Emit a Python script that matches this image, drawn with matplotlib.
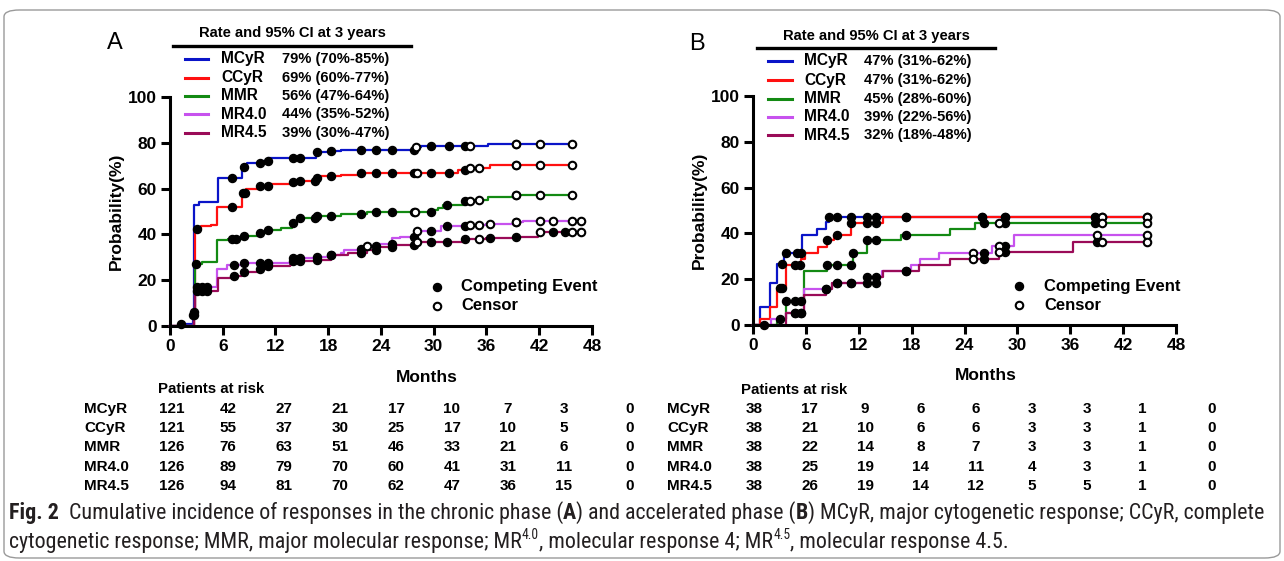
import numpy as np
import matplotlib
matplotlib.use("Agg")
import matplotlib.pyplot as plt
import matplotlib.font_manager as fm
from matplotlib.lines import Line2D
from matplotlib.patches import FancyBboxPatch

W, H = 1284, 561
FONT = "Liberation Sans"

# ---- data: cumulative incidence step curves (months, %) ----
series = ["MCyR", "CCyR", "MMR", "MR4.0", "MR4.5"]
colors = ["#0a14c8", "#ff1010", "#138a13", "#c752ee", "#9a0b58"]

# panel A: chronic phase
A_MCyR_t = [0, 1.2, 2.6, 2.75, 3.3, 5.5, 8.2, 8.8, 10.6, 11.2, 16.6, 18.0, 19.4, 27.8, 28.6, 36.2]
A_MCyR_v = [0, 0.8, 5, 53, 54, 64.5, 69.5, 71, 72, 73.5, 76, 76.5, 77, 78, 78.7, 79.5]
A_CCyR_t = [0, 2.7, 2.8, 3.5, 4.7, 5.4, 8.2, 8.7, 10.2, 11.2, 13.8, 14.8, 16.6, 17.2, 19.4, 21.7, 32.8, 33.8, 36.4]
A_CCyR_v = [0, 6, 42.5, 43.5, 44, 52, 58, 60, 61, 62, 63, 63.5, 64.5, 65.5, 66, 67, 68, 69, 70.3]
A_MMR_t = [0, 2.7, 2.8, 3.6, 5.4, 6.6, 8.2, 10.0, 11.0, 12.6, 13.9, 14.5, 16.6, 19.4, 22.4, 30.0, 30.5, 31.1, 33.6, 34.5, 36.2, 39.1]
A_MMR_v = [0, 5, 27, 28, 37.5, 38, 39.5, 40.5, 42, 43, 45, 47, 48, 49, 50, 50.5, 51.5, 53, 54.5, 55, 56.5, 57.2]
A_MR40_t = [0, 2.7, 2.8, 5.4, 6.5, 8.2, 13.9, 16.4, 18.2, 19.4, 19.8, 21.6, 22.4, 23.5, 25.3, 26.2, 27.9, 30.8, 33.8, 36.0, 39.3, 40.2]
A_MR40_v = [0, 5, 17, 25, 26.5, 27.5, 29.5, 30, 31, 32, 33, 33.5, 35, 36, 38.5, 39, 41.5, 43.5, 44, 44.5, 45.5, 46]
A_MR45_t = [0, 2.7, 2.8, 5.5, 6.9, 8.2, 10.0, 11.0, 13.6, 13.9, 16.4, 18.3, 20.2, 22.4, 23.7, 25.4, 27.9, 33.6, 36.0, 39.3, 41.9]
A_MR45_v = [0, 5, 15.5, 21, 22, 23.5, 25, 26, 26.5, 28.5, 29, 31, 32, 33, 34.5, 35.5, 36.5, 38, 38.5, 39, 41]
A_end = [45.7, 45.7, 45.7, 46.7, 46.7]

# competing events (filled) and censored (open) times
A_MCyR_ev = [1.3, 2.6, 7.1, 8.4, 10.2, 11.1, 14.0, 14.8, 16.7, 18.3, 21.7, 23.4, 25.2, 27.7, 29.7, 31.7, 33.6, 39.3]
A_MCyR_cen = [28.0, 34.1, 39.3, 42.1, 45.7]
A_CCyR_ev = [2.72, 3.1, 7.1, 8.3, 8.5, 10.2, 11.1, 14.0, 14.8, 16.5, 16.7, 18.3, 21.7, 23.4, 25.2, 27.7, 29.7, 31.7, 33.6, 39.3]
A_CCyR_cen = [28.1, 34.1, 35.1, 39.3, 42.1, 45.7]
A_MMR_ev = [2.75, 3.0, 7.1, 7.5, 8.4, 10.2, 11.1, 14.0, 14.8, 16.5, 16.7, 18.3, 21.7, 23.4, 25.2, 27.7, 29.7, 31.5, 33.6, 39.3]
A_MMR_cen = [27.9, 34.1, 35.1, 39.3, 42.1, 45.7]
A_MR40_ev = [3.1, 3.6, 4.2, 7.3, 8.4, 10.2, 11.1, 14.0, 14.8, 16.7, 18.3, 21.7, 23.4, 25.2, 27.7, 29.7, 31.5, 33.6, 39.3]
A_MR40_cen = [22.4, 28.1, 34.1, 35.1, 36.4, 39.3, 42.1, 43.6, 45.7, 46.7]
A_MR45_ev = [3.1, 3.6, 4.2, 7.3, 8.4, 10.2, 11.1, 14.0, 14.8, 16.7, 18.3, 21.7, 23.4, 25.2, 27.7, 29.7, 31.5, 33.6, 36.4, 39.3, 43.6, 44.9]
A_MR45_cen = [28.1, 35.1, 42.1, 45.7, 46.7]

# panel B: accelerated phase
B_MCyR_t = [0, 0.85, 1.9, 2.7, 3.55, 5.55, 7.3, 8.3, 8.6]
B_MCyR_v = [0, 8, 18.5, 26.5, 31.5, 39.5, 42, 45, 47.3]
B_CCyR_t = [0, 0.85, 1.9, 2.7, 3.8, 5.4, 5.95, 7.4, 8.4, 9.2, 11.1, 14.8]
B_CCyR_v = [0, 2.5, 8, 16, 26.3, 29, 31.5, 34.2, 37, 39.5, 44.7, 47.3]
B_MMR_t = [0, 2.7, 3.8, 5.75, 8.4, 11.3, 12.9, 16.8, 22.3, 25.2]
B_MMR_v = [0, 2.5, 10.5, 23.7, 26.3, 31.5, 37, 39.5, 42, 44.7]
B_MR40_t = [0, 2.0, 3.8, 5.75, 9.0, 14.3, 14.6, 17.9, 19.0, 21.1, 27.1, 29.6]
B_MR40_v = [0, 2.5, 5.3, 15.8, 18.5, 21, 23.7, 26.3, 29, 31.5, 34.5, 39.5]
B_MR45_t = [0, 3.8, 5.75, 8.3, 9.0, 12.9, 14.8, 18.8, 22.3, 27.9, 36.3]
B_MR45_v = [0, 5.3, 13, 15.8, 18.5, 21, 23.7, 26.3, 29, 32, 36.3]
B_end = [44.7, 44.7, 44.7, 44.7, 44.7]

B_MCyR_ev = [3.3, 3.8, 5.0, 5.4, 8.6, 9.5, 11.1, 12.9, 14.0, 17.4, 26.0, 28.6, 38.8]
B_MCyR_cen = [39.6, 44.7]
B_CCyR_ev = [3.1, 3.3, 4.8, 5.3, 8.4, 9.5, 11.1, 12.9, 14.0, 17.4, 26.0, 28.6, 38.8]
B_CCyR_cen = [39.6, 44.7]
B_MMR_ev = [1.3, 3.1, 3.8, 4.8, 5.4, 8.4, 9.5, 11.1, 11.4, 12.9, 14.0, 17.4, 26.2, 28.6, 38.8]
B_MMR_cen = [27.9, 39.6, 44.7]
B_MR40_ev = [4.8, 5.4, 8.3, 9.5, 11.1, 12.9, 14.0, 17.4, 26.2, 28.6]
B_MR40_cen = [25.0, 27.9, 39.0, 44.7]
B_MR45_ev = [4.8, 5.4, 8.3, 9.5, 11.1, 12.9, 14.0, 17.4, 26.2, 28.6, 39.0]
B_MR45_cen = [25.0, 27.9, 39.6, 44.7]

A_rate = ["79% (70%-85%)", "69% (60%-77%)", "56% (47%-64%)", "44% (35%-52%)", "39% (30%-47%)"]
B_rate = ["47% (31%-62%)", "47% (31%-62%)", "45% (28%-60%)", "39% (22%-56%)", "32% (18%-48%)"]

risk_months = [0, 6, 12, 18, 24, 30, 36, 42, 48]
A_risk = [[121, 42, 27, 21, 17, 10, 7, 3, 0],
          [121, 55, 37, 30, 25, 17, 10, 5, 0],
          [126, 76, 63, 51, 46, 33, 21, 6, 0],
          [126, 89, 79, 70, 60, 41, 31, 11, 0],
          [126, 94, 81, 70, 62, 47, 36, 15, 0]]
B_risk = [[38, 17, 9, 6, 6, 3, 3, 1, 0],
          [38, 21, 10, 6, 6, 3, 3, 1, 0],
          [38, 22, 14, 8, 7, 3, 3, 1, 0],
          [38, 25, 19, 14, 11, 4, 3, 1, 0],
          [38, 26, 19, 14, 12, 5, 5, 1, 0]]

A_curves = [(A_MCyR_t, A_MCyR_v, A_MCyR_ev, A_MCyR_cen), (A_CCyR_t, A_CCyR_v, A_CCyR_ev, A_CCyR_cen),
            (A_MMR_t, A_MMR_v, A_MMR_ev, A_MMR_cen), (A_MR40_t, A_MR40_v, A_MR40_ev, A_MR40_cen),
            (A_MR45_t, A_MR45_v, A_MR45_ev, A_MR45_cen)]
B_curves = [(B_MCyR_t, B_MCyR_v, B_MCyR_ev, B_MCyR_cen), (B_CCyR_t, B_CCyR_v, B_CCyR_ev, B_CCyR_cen),
            (B_MMR_t, B_MMR_v, B_MMR_ev, B_MMR_cen), (B_MR40_t, B_MR40_v, B_MR40_ev, B_MR40_cen),
            (B_MR45_t, B_MR45_v, B_MR45_ev, B_MR45_cen)]


def fx(x):
    return x / W


def fy(y):
    return 1 - y / H


def step_at(t, v, x):
    idx = np.searchsorted(np.asarray(t), np.asarray(x), side="right") - 1
    return np.asarray(v)[idx]


def panel(fig, left, right, top, bottom, curves, ends):
    ax = fig.add_axes([fx(left), fy(bottom), fx(right - left), (bottom - top) / H])
    for (t, v, ev, cen), end, c in zip(curves, ends, colors):
        ax.step(list(t) + [end], list(v) + [v[-1]], where="post", color=c, lw=1.6, clip_on=False, zorder=2)
    for (t, v, ev, cen), c in zip(curves, colors):
        ax.plot(ev, step_at(t, v, ev), "o", ms=5.8, color="black", clip_on=False, zorder=4)
        ax.plot(cen, step_at(t, v, cen), "o", ms=5.4, mfc="white", mec="black", mew=1.5,
                clip_on=False, zorder=4)
    ax.set_xlim(0, 48)
    ax.set_ylim(0, 100)
    ax.set_xticks(risk_months)
    ax.set_yticks([0, 20, 40, 60, 80, 100])
    for s in ["top", "right"]:
        ax.spines[s].set_visible(False)
    for s in ["left", "bottom"]:
        ax.spines[s].set_linewidth(2.2)
    ax.tick_params(direction="out", length=6.5, width=2.2, labelsize=12.5, pad=3)
    for lab in ax.get_xticklabels() + ax.get_yticklabels():
        lab.set_fontweight("bold")
        lab.set_family(FONT)
    ax.patch.set_alpha(0)
    return ax


plt.rcParams["font.family"] = [FONT, "DejaVu Sans"]
fig = plt.figure(figsize=(W / 100, H / 100), dpi=100)

# frame around the figure
fig.patches.append(FancyBboxPatch((fx(4), fy(558)), fx(1276), (558 - 10) / H,
                                  boxstyle="round,pad=0,rounding_size=0.012",
                                  transform=fig.transFigure, fc="none", ec="#9a9a9a", lw=1.0))

layouts = [
    dict(ax=(170, 592, 97, 326), curves=A_curves, ends=A_end, letter="A", lpos=(107, 43),
         title_x=292, title_y=33, ul=(173, 411, 46), hx=(185, 208), lab_x=221, pct_x=282,
         rows=[59, 77.7, 96, 114.3, 132.7], rate=A_rate, mk=(437, 461, 287, 306), ylab_x=116,
         months=(427, 377), risk=A_risk, risk_lab_x=84, risk_title=(158, 389),
         cols=[172 + 56 * i for i in range(8)] + [630]),
    dict(ax=(753, 1176, 96, 325), curves=B_curves, ends=B_end, letter="B", lpos=(689, 44),
         title_x=876, title_y=36, ul=(757, 995, 47.5), hx=(768, 792), lab_x=804, pct_x=864,
         rows=[61, 80, 98.7, 116.7, 135.3], rate=B_rate, mk=(1019, 1044, 286, 305), ylab_x=699,
         months=(986, 376), risk=B_risk, risk_lab_x=667, risk_title=(741, 390),
         cols=[754 + 55.5 * i for i in range(8)] + [1212]),
]

for L in layouts:
    l, r, t, b = L["ax"]
    panel(fig, l, r, t, b, L["curves"], L["ends"])
    fig.text(fx(L["lpos"][0]), fy(L["lpos"][1]), L["letter"], fontsize=17, va="center", ha="left")
    fig.text(fx(L["title_x"]), fy(L["title_y"]), "Rate and 95% CI at 3 years", fontsize=10.6,
             fontweight="bold", ha="center", va="center")
    x0, x1, yu = L["ul"]
    fig.add_artist(Line2D([fx(x0), fx(x1)], [fy(yu), fy(yu)], color="black", lw=2.4))
    for name, c, yy, rate in zip(series, colors, L["rows"], L["rate"]):
        fig.add_artist(Line2D([fx(L["hx"][0]), fx(L["hx"][1])], [fy(yy), fy(yy)], color=c, lw=2.2))
        fig.text(fx(L["lab_x"]), fy(yy), name, fontsize=11.2, fontweight="bold", va="center")
        fig.text(fx(L["pct_x"]), fy(yy), rate, fontsize=10.6, fontweight="bold", va="center")
    mx, tx, y1, y2 = L["mk"]
    fig.add_artist(Line2D([fx(mx)], [fy(y1)], marker="o", ms=5.8, color="black", ls="none"))
    fig.add_artist(Line2D([fx(mx)], [fy(y2)], marker="o", ms=5.4, mfc="white", mec="black",
                          mew=1.5, ls="none"))
    fig.text(fx(tx), fy(y1), "Competing Event", fontsize=12, fontweight="bold", va="center")
    fig.text(fx(tx), fy(y2), "Censor", fontsize=12, fontweight="bold", va="center")
    fig.text(fx(L["ylab_x"]), fy((t + b) / 2), "Probability(%)", fontsize=12.5, fontweight="bold",
             rotation=90, ha="center", va="center")
    fig.text(fx(L["months"][0]), fy(L["months"][1]), "Months", fontsize=12.5, fontweight="bold",
             ha="center", va="center")
    fig.text(fx(L["risk_title"][0]), fy(L["risk_title"][1]), "Patients at risk", fontsize=10.8,
             fontweight="bold", va="center")
    for i, (name, row) in enumerate(zip(series, L["risk"])):
        yy = 409 + i * 19.2
        fig.text(fx(L["risk_lab_x"]), fy(yy), name, fontsize=11, fontweight="bold", va="center")
        for cx, n in zip(L["cols"], row):
            fig.text(fx(cx), fy(yy), str(n), fontsize=11, fontweight="bold", va="center", ha="center")

# ---- caption ----
names = {f.name for f in fm.fontManager.ttflist}
cap_font = FONT
for cand in ["Liberation Sans Narrow", "Roboto Condensed", "Open Sans Condensed"]:
    if cand in names:
        cap_font = cand
        break
cap_col = "#231f20"
line1 = [("Fig. 2", "bold", False),
         ("  Cumulative incidence of responses in the chronic phase (", "normal", False),
         ("A", "bold", False), (") and accelerated phase (", "normal", False), ("B", "bold", False),
         (") MCyR, major cytogenetic response; CCyR, complete", "normal", False)]
line2 = [("cytogenetic response; MMR, major molecular response; MR", "normal", False),
         ("4.0", "normal", True), (", molecular response 4; MR", "normal", False),
         ("4.5", "normal", True), (", molecular response 4.5.", "normal", False)]

renderer = fig.canvas.get_renderer()


def draw_runs(parts, x, y, size):
    arts = []
    for txt, weight, sup in parts:
        fs = size * 0.62 if sup else size
        yy = y - size * 0.55 if sup else y
        a = fig.text(fx(x), fy(yy), txt, fontsize=fs, fontweight=weight, family=cap_font,
                     color=cap_col, va="baseline")
        x += a.get_window_extent(renderer=renderer).width
        arts.append(a)
    return arts, x


trial, xend = draw_runs(line1, 9, 519, 13)
size = 13 * (1262 - 9) / (xend - 9)
for a in trial:
    a.remove()
draw_runs(line1, 9, 519, size)
draw_runs(line2, 9, 548, size)

fig.savefig("out.png", dpi=100)
